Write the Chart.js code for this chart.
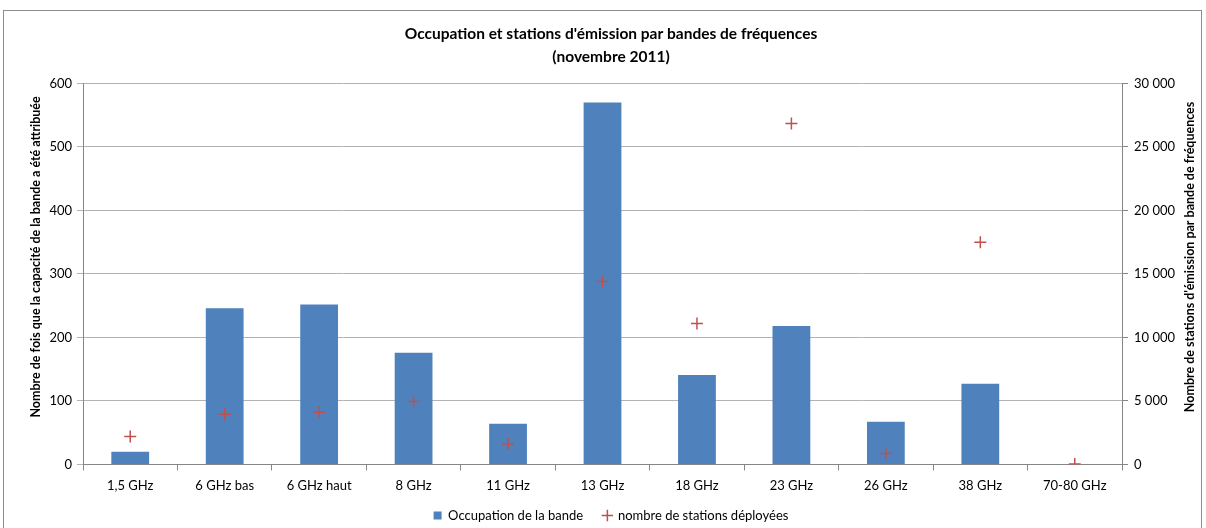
<!DOCTYPE html>
<html>
<head>
<meta charset="utf-8">
<script src="https://cdn.jsdelivr.net/npm/chart.js@4.4.1/dist/chart.umd.min.js"></script>
<style>
  html, body { margin: 0; padding: 0; background: #fff; }
  #wrap { position: relative; width: 1206px; height: 528px; }
  #frame { position: absolute; left: 3px; top: 10px; width: 1199px; height: 530px; border: 1px solid #8c8c8c; box-sizing: border-box; pointer-events: none; }
  canvas { position: absolute; left: 0; top: 0; }
</style>
</head>
<body>
<div id="wrap">
  <canvas id="chart" width="1206" height="528"></canvas>
  <div id="frame"></div>
</div>
<script>
// bandes de fréquences
var categories = ['1,5 GHz', '6 GHz bas', '6 GHz haut', '8 GHz', '11 GHz', '13 GHz',
                  '18 GHz', '23 GHz', '26 GHz', '38 GHz', '70-80 GHz'];
// nombre de fois que la capacité de la bande a été attribuée
var occupation = [20, 246, 252, 176, 64, 570, 141, 218, 67, 127, 0];
// nombre de stations déployées
var stations = [2200, 3950, 4100, 4950, 1600, 14400, 11100, 26850, 850, 17500, 30];

var leftTicks = [0, 100, 200, 300, 400, 500, 600];
var rightTicks = [0, 5000, 10000, 15000, 20000, 25000, 30000];

var leftTitle = 'Nombre de fois que la capacité de la bande a été attribuée';
var rightTitle = "Nombre de stations d'émission par bande de fréquences";

var FONT = 'Lato, "Open Sans", sans-serif';
Chart.defaults.font.family = FONT;
Chart.defaults.color = '#000';

function formatSpace(v) {
    return String(v).replace(/\B(?=(\d{3})+(?!\d))/g, ' ');
}

// both axis titles read bottom-to-top, like in Excel
var axisTitles = {
    id: 'axisTitles',
    afterDraw: function(chart) {
        var ctx = chart.ctx,
            area = chart.chartArea,
            cy = (area.top + area.bottom) / 2 - 17;
        ctx.save();
        ctx.font = 'bold 12.5px ' + FONT;
        ctx.fillStyle = '#000';
        ctx.textAlign = 'center';
        ctx.textBaseline = 'middle';
        [[leftTitle, 36], [rightTitle, 1190]].forEach(function(t) {
            ctx.save();
            ctx.translate(t[1], cy);
            ctx.rotate(-Math.PI / 2);
            ctx.fillText(t[0], 0, 0);
            ctx.restore();
        });
        ctx.restore();
    }
};

new Chart(document.getElementById('chart'), {
    data: {
        labels: categories,
        datasets: [{
            type: 'line',
            label: 'nombre de stations déployées',
            data: stations,
            yAxisID: 'y1',
            showLine: false,
            pointStyle: 'cross',
            pointRadius: 6,
            pointBorderWidth: 1.5,
            borderColor: '#c0504d',
            backgroundColor: '#c0504d',
            order: 0
        }, {
            type: 'bar',
            label: 'Occupation de la bande',
            data: occupation,
            yAxisID: 'y',
            backgroundColor: '#4f81bd',
            borderColor: '#4f81bd',
            pointStyle: 'rect',
            categoryPercentage: 1,
            barPercentage: 0.4,
            order: 1
        }]
    },
    plugins: [axisTitles],
    options: {
        responsive: false,
        animation: false,
        layout: { padding: { left: 20, right: 4, top: 0, bottom: -4 } },
        plugins: {
            title: {
                display: true,
                text: ["Occupation et stations d'émission par bandes de fréquences", '(novembre 2011)'],
                font: { size: 15.5, weight: 'bold', lineHeight: 1.5 },
                color: '#000',
                padding: { top: 22, bottom: 15 }
            },
            legend: {
                position: 'bottom',
                reverse: true,
                labels: {
                    usePointStyle: true,
                    boxWidth: 8,
                    boxHeight: 8,
                    padding: 7,
                    font: { size: 13 },
                    color: '#000',
                    generateLabels: function(chart) {
                        var items = Chart.defaults.plugins.legend.labels.generateLabels(chart);
                        // wider gap after the bar entry, as in the original
                        items.forEach(function(it) { if (it.datasetIndex === 1) it.text += '    '; });
                        return items;
                    }
                }
            },
            tooltip: { enabled: false }
        },
        scales: {
            x: {
                offset: true,
                grid: { offset: true, drawOnChartArea: false, tickLength: 6, color: '#868686' },
                border: { color: '#868686' },
                ticks: { font: { size: 13 }, color: '#000', maxRotation: 0, padding: 8 }
            },
            y: {
                position: 'left',
                min: 0,
                max: 600,
                afterBuildTicks: function(scale) { scale.ticks = leftTicks.map(function(v) { return {value: v}; }); },
                afterFit: function(scale) { scale.width = 63; },
                grid: { color: '#b3b3b3', tickLength: 6 },
                border: { color: '#868686' },
                ticks: { font: { size: 13 }, color: '#000', padding: 5 }
            },
            y1: {
                position: 'right',
                min: 0,
                max: 30000,
                afterBuildTicks: function(scale) { scale.ticks = rightTicks.map(function(v) { return {value: v}; }); },
                afterFit: function(scale) { scale.width = 80; },
                grid: { drawOnChartArea: false, color: '#868686', tickLength: 6 },
                border: { color: '#868686' },
                ticks: {
                    font: { size: 13 },
                    color: '#000',
                    padding: 6,
                    callback: function(v) { return formatSpace(v); }
                }
            }
        }
    }
});
</script>
</body>
</html>
